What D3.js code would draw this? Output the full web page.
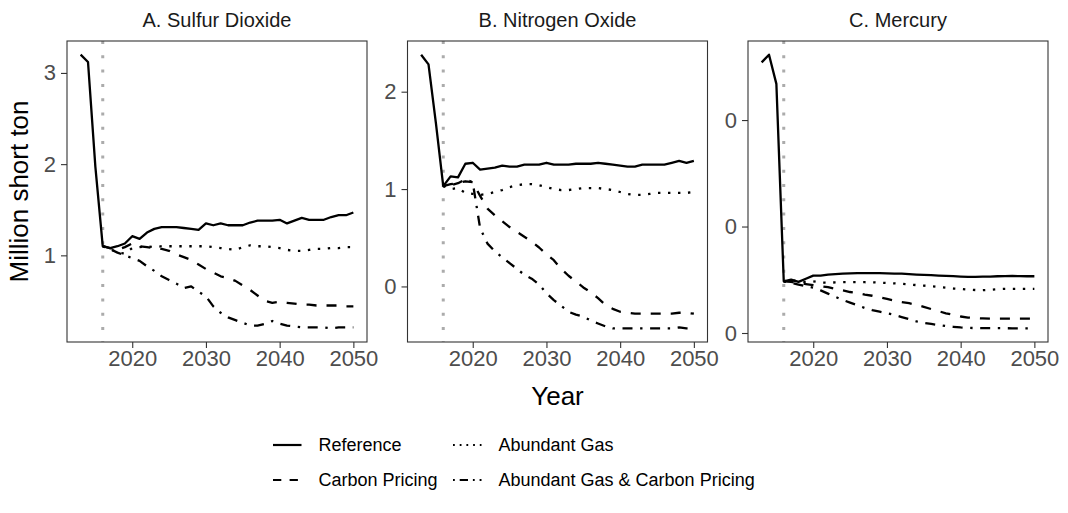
<!DOCTYPE html>
<html><head><meta charset="utf-8">
<script src="https://cdn.jsdelivr.net/npm/d3@7"></script>
<style>
body{margin:0;background:#fff}
svg{display:block;font-family:"Liberation Sans",Arial,Helvetica,sans-serif}
</style>
</head><body>
<svg id="chart" width="1068" height="513"></svg>
<script>
// ---------------- DATA ----------------
const panelTitles = ["A. Sulfur Dioxide", "B. Nitrogen Oxide", "C. Mercury"];
const seriesNames = ["Reference", "Abundant Gas", "Carbon Pricing", "Abundant Gas & Carbon Pricing"];
const yAxisTitle = "Million short ton";
const xAxisTitle = "Year";
const policyYear = 2016;

const refYears = [2013,2014,2015,2016,2017,2018,2019,2020,2021,2022,2023,2024,2025,2026,2027,2028,2029,2030,
  2031,2032,2033,2034,2035,2036,2037,2038,2039,2040,2041,2042,2043,2044,2045,2046,2047,2048,2049,2050];
const scenYears = [2016,2017,2018,2019,2020,2021,2022,2023,2024,2025,2026,2027,2028,2029,2030,
  2031,2032,2033,2034,2035,2036,2037,2038,2039,2040,2041,2042,2043,2044,2045,2046,2047,2048,2049,2050];

const xTicks = [2020, 2030, 2040, 2050];
const so2Ticks = [1, 2, 3];
const noxTicks = [0, 1, 2];
const hgTicks = [0, 0.01, 0.02];

// A. Sulfur dioxide
const so2Reference = [3.20,3.12,1.97,1.10,1.08,1.10,1.13,1.21,1.18,1.25,1.29,1.31,1.31,1.31,1.30,1.29,1.28,1.35,
  1.33,1.35,1.33,1.33,1.33,1.36,1.38,1.38,1.38,1.39,1.35,1.38,1.41,1.39,1.39,1.39,1.42,1.44,1.44,1.47];
const so2AbundantGas = [1.10,1.07,1.03,1.02,1.08, 1.09,1.10,1.09,1.10,1.10, 1.10,1.10,1.10,1.10,1.10,
  1.09,1.08,1.07,1.06,1.09, 1.11,1.10,1.10,1.09,1.08, 1.06,1.05,1.05,1.06,1.07, 1.07,1.08,1.08,1.09,1.09];
const so2CarbonPricing = [1.10,1.08,1.06,1.09,1.13, 1.10,1.09,1.08,1.07,1.05, 1.01,0.98,0.95,0.90,0.85,
  0.81,0.77,0.75,0.72,0.67, 0.62,0.56,0.50,0.48,0.49, 0.48,0.47,0.46,0.46,0.45, 0.45,0.45,0.45,0.44,0.44];
const so2GasCarbon = [1.10,1.07,1.03,1.00,0.97, 0.94,0.88,0.83,0.77,0.73, 0.69,0.64,0.66,0.60,0.55,
  0.44,0.37,0.32,0.29,0.26, 0.23,0.23,0.25,0.28,0.25, 0.23,0.22,0.21,0.21,0.21, 0.21,0.20,0.21,0.21,0.21];

// B. Nitrogen oxide
const noxReference = [2.38,2.28,1.68,1.03,1.13,1.12,1.26,1.27,1.20,1.21,1.22,1.24,1.23,1.23,1.25,1.25,1.25,1.27,
  1.25,1.25,1.25,1.26,1.26,1.26,1.27,1.26,1.25,1.24,1.23,1.23,1.25,1.25,1.25,1.25,1.27,1.29,1.27,1.29];
const noxAbundantGas = [1.03,1.00,1.01,0.96,0.95, 0.94,0.95,0.97,0.99,1.02, 1.04,1.05,1.05,1.04,1.02,
  1.00,0.99,0.99,1.00,1.01, 1.01,1.01,1.00,0.99,0.97, 0.95,0.94,0.94,0.95,0.96, 0.96,0.96,0.96,0.96,0.97];
const noxCarbonPricing = [1.03,1.05,1.06,1.08,1.07, 0.93,0.80,0.73,0.67,0.61, 0.56,0.51,0.46,0.40,0.33,
  0.27,0.18,0.11,0.05,-0.01, -0.06,-0.12,-0.19,-0.23,-0.26, -0.27,-0.28,-0.28,-0.28,-0.28, -0.28,-0.28,-0.27,-0.27,-0.28];
const noxGasCarbon = [1.03,1.04,1.06,1.10,1.07, 0.60,0.44,0.36,0.30,0.24, 0.18,0.12,0.08,0.02,-0.07,
  -0.14,-0.20,-0.26,-0.29,-0.31, -0.35,-0.38,-0.41,-0.43,-0.43, -0.43,-0.43,-0.43,-0.43,-0.43, -0.43,-0.43,-0.42,-0.43,-0.43];

// C. Mercury
const hgReference = [0.02542,0.02614,0.02340,0.00486,0.00502,0.00480,0.00510,0.00539,0.00539,0.00549,0.00553,0.00558,
  0.00560,0.00562,0.00563,0.00563,0.00562,0.00560,0.00558,0.00558,0.00553,0.00549,0.00546,0.00543,0.00539,0.00536,
  0.00534,0.00530,0.00527,0.00527,0.00530,0.00530,0.00533,0.00534,0.00536,0.00534,0.00533,0.00533];
const hgAbundantGas = [0.00486,0.00500,0.00480,0.00480,0.00485, 0.00475,0.00472,0.00475,0.00477,0.00477,
  0.00477,0.00477,0.00476,0.00473,0.00470, 0.00466,0.00462,0.00456,0.00450,0.00445,
  0.00439,0.00432,0.00425,0.00418,0.00414, 0.00408,0.00404,0.00402,0.00406,0.00412,
  0.00415,0.00415,0.00415,0.00415,0.00415];
const hgCarbonPricing = [0.00486,0.00480,0.00470,0.00460,0.00450, 0.00440,0.00430,0.00415,0.00400,0.00385,
  0.00375,0.00360,0.00350,0.00335,0.00320, 0.00305,0.00290,0.00280,0.00265,0.00245,
  0.00225,0.00205,0.00185,0.00170,0.00155, 0.00145,0.00140,0.00137,0.00135,0.00135,
  0.00135,0.00135,0.00135,0.00135,0.00135];
const hgGasCarbon = [0.00486,0.00470,0.00455,0.00440,0.00425, 0.00400,0.00370,0.00340,0.00310,0.00285,
  0.00260,0.00235,0.00215,0.00200,0.00185, 0.00170,0.00150,0.00130,0.00110,0.00095,
  0.00085,0.00075,0.00065,0.00058,0.00052, 0.00048,0.00046,0.00045,0.00045,0.00045,
  0.00045,0.00044,0.00044,0.00044,0.00045];

// ---------------- LAYOUT / STYLE ----------------
const panels = [
  {title: panelTitles[0], ticks: so2Ticks, series: [so2Reference, so2AbundantGas, so2CarbonPricing, so2GasCarbon]},
  {title: panelTitles[1], ticks: noxTicks, series: [noxReference, noxAbundantGas, noxCarbonPricing, noxGasCarbon]},
  {title: panelTitles[2], ticks: hgTicks, series: [hgReference, hgAbundantGas, hgCarbonPricing, hgGasCarbon]}
];
const panelLefts = [67, 407.5, 748];
const panelW = 300, plotTop = 41, plotBottom = 342;
const lineW = 2.3;
const dashes = [null, "2.4,7.6", "10,10", "2.4,7.6,10,7.6"];
const legendDashes = [null, "1.8,4.9", "8.3,8.3", "1.8,4.9,8.3,4.9"];
const fmt = d3.format(".0f");

const svg = d3.select("#chart");
svg.append("rect").attr("width",1068).attr("height",513).attr("fill","#fff");

panels.forEach((p, i) => {
  const L = panelLefts[i];
  const xExt = d3.extent(refYears);
  const xPad = (xExt[1]-xExt[0])*0.05;
  const x = d3.scaleLinear().domain([xExt[0]-xPad, xExt[1]+xPad]).range([L, L+panelW]);
  const all = p.series.flat();
  const yExt = d3.extent(all);
  const yPad = (yExt[1]-yExt[0])*0.05;
  const y = d3.scaleLinear().domain([yExt[0]-yPad, yExt[1]+yPad]).range([plotBottom, plotTop]);

  const g = svg.append("g");

  // policy year marker
  g.append("line")
    .attr("x1", x(policyYear)).attr("x2", x(policyYear))
    .attr("y1", plotTop).attr("y2", plotBottom)
    .attr("stroke", "#ababab").attr("stroke-width", 3)
    .attr("stroke-dasharray", "3,11.3");

  // series lines
  p.series.forEach((vals, k) => {
    const yrs = k === 0 ? refYears : scenYears;
    const pts = yrs.map((yr, j) => [yr, vals[j]]);
    const line = d3.line().x(d => x(d[0])).y(d => y(d[1]));
    const path = g.append("path").attr("d", line(pts))
      .attr("fill", "none").attr("stroke", "#000")
      .attr("stroke-width", lineW).attr("stroke-linejoin", "round");
    if (dashes[k]) path.attr("stroke-dasharray", dashes[k]);
  });

  // border
  g.append("rect").attr("x", L).attr("y", plotTop)
    .attr("width", panelW).attr("height", plotBottom - plotTop)
    .attr("fill", "none").attr("stroke", "#333").attr("stroke-width", 1.1);

  // axes
  const xa = g.append("g").attr("transform", `translate(0,${plotBottom})`)
    .call(d3.axisBottom(x).tickValues(xTicks).tickFormat(d3.format("d")).tickSize(6).tickPadding(2));
  const ya = g.append("g").attr("transform", `translate(${L},0)`)
    .call(d3.axisLeft(y).tickValues(p.ticks).tickFormat(fmt).tickSize(6).tickPadding(5));
  [xa, ya].forEach(a => {
    a.select(".domain").remove();
    a.selectAll(".tick line").attr("stroke", "#333").attr("stroke-width", 1.1);
    a.selectAll(".tick text").attr("fill", "#4d4d4d").style("font-size", "22px")
      .style("font-family", '"Liberation Sans",Arial,sans-serif');
  });

  // strip title
  svg.append("text").attr("x", L + panelW/2).attr("y", 27)
    .attr("text-anchor", "middle").attr("fill", "#1a1a1a")
    .style("font-size", "20px").text(p.title);
});

// axis titles
svg.append("text").attr("x", panelLefts[1] + panelW/2).attr("y", 405)
  .attr("text-anchor", "middle").attr("fill", "#000").style("font-size", "26px").text(xAxisTitle);
svg.append("text").attr("transform", `translate(28,${(plotTop+plotBottom)/2}) rotate(-90)`)
  .attr("text-anchor", "middle").attr("fill", "#000").style("font-size", "26px").text(yAxisTitle);

// legend
const legendPos = [
  {kx: 273, tx: 318.5, y: 445},
  {kx: 453, tx: 498.5, y: 445},
  {kx: 273, tx: 318.5, y: 480},
  {kx: 453, tx: 498.5, y: 480}
];
seriesNames.forEach((name, k) => {
  const pos = legendPos[k];
  const ln = svg.append("line").attr("x1", pos.kx).attr("x2", pos.kx + 28.5)
    .attr("y1", pos.y).attr("y2", pos.y)
    .attr("stroke", "#000").attr("stroke-width", 2.2);
  if (legendDashes[k]) ln.attr("stroke-dasharray", legendDashes[k]);
  svg.append("text").attr("x", pos.tx).attr("y", pos.y).attr("dy", "0.35em")
    .attr("fill", "#000").style("font-size", "18px").text(name);
});
</script>
</body></html>
